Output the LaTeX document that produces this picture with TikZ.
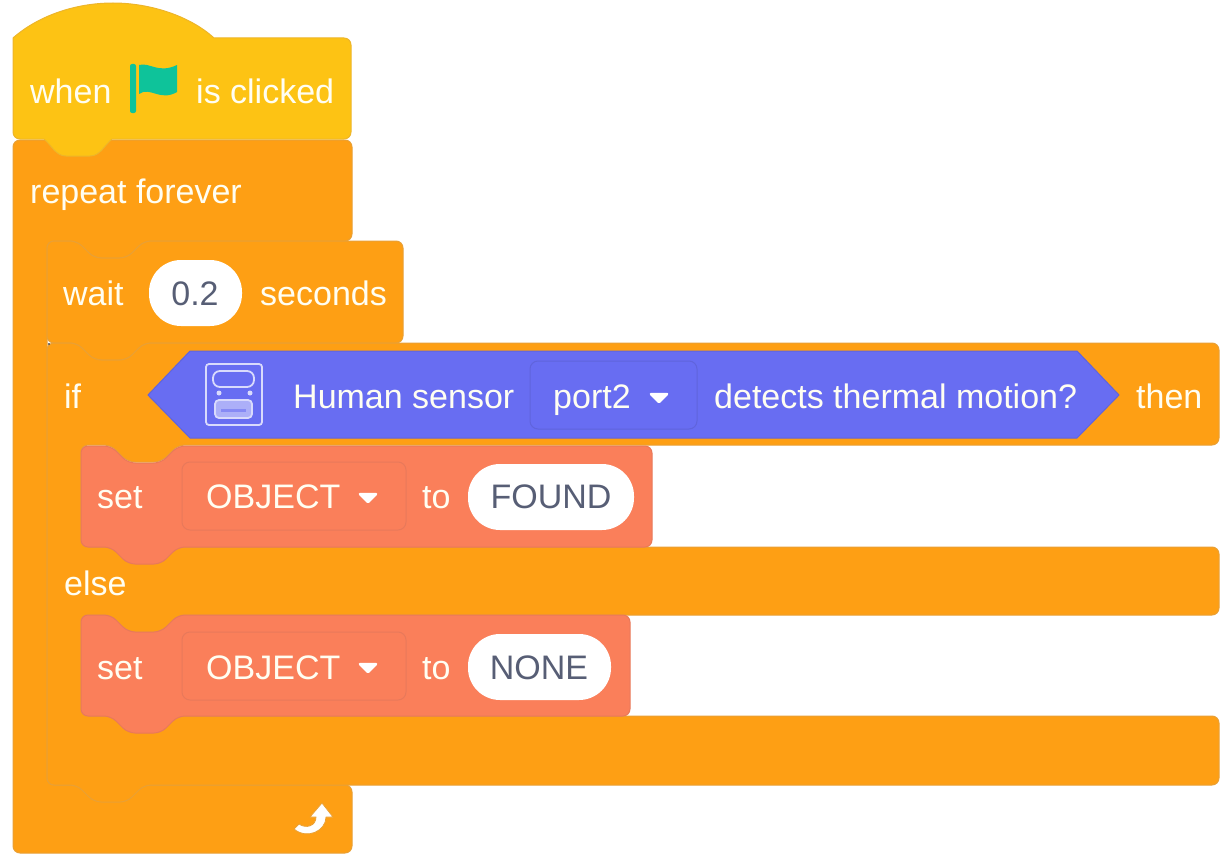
\documentclass[tikz,border=0pt]{standalone}
\usepackage{fontspec}
\setmainfont{Liberation Sans}
\definecolor{hatyellow}{HTML}{FDC314}
\definecolor{hatline}{HTML}{EDB52A}
\definecolor{ctrlorange}{HTML}{FE9F14}
\definecolor{ctrlline}{HTML}{E9A035}
\definecolor{sensorblue}{HTML}{686DF2}
\definecolor{sensorline}{HTML}{6064DC}
\definecolor{varcoral}{HTML}{FA7F5A}
\definecolor{varline}{HTML}{E8795A}
\definecolor{flaggreen}{HTML}{0EC39A}
\definecolor{inputgrey}{HTML}{575E75}

\tikzset{
    lbl/.style={font=\fontsize{34}{34}\selectfont, text=white!95!yellow, inner sep=0pt, anchor=base west},
    inputlbl/.style={font=\fontsize{34}{34}\selectfont, text=inputgrey, inner sep=0pt, anchor=base},
    pill/.style={fill=white, rounded corners=32pt},
    ctrlblock/.style={fill=ctrlorange, draw=ctrlline, line width=1pt, rounded corners=7pt},
    varblock/.style={fill=varcoral, draw=varline, line width=1pt, rounded corners=7pt},
    varmenu/.style={draw=varline, fill=varcoral, line width=1pt, rounded corners=8pt},
    menuarrow/.style={fill=white, draw=white, line width=2.5pt, line join=round},
    iconline/.style={draw=white!75!sensorblue, line width=1.8pt}
}

% style, left, top, right, bottom
\newcommand{\stackblock}[5]{
    \draw[#1] (#2,#3) -- (#2+30,#3) -- (#2+47,#3+17) -- (#2+80,#3+17) -- (#2+97,#3) -- (#4,#3)
        -- (#4,#5) -- (#2+97,#5) -- (#2+80,#5+17) -- (#2+47,#5+17) -- (#2+30,#5) -- (#2,#5) -- cycle;
}

\begin{document}
\begin{tikzpicture}[x=1pt, y=-1pt]
    \useasboundingbox (0,0) rectangle (1227,867);

    % repeat forever
    \draw[ctrlblock] (13,140) -- (352,140) -- (352,241) -- (144,241) -- (127,258) -- (94,258) -- (77,241)
        -- (47,241) -- (47,785) -- (352,785) -- (352,853) -- (13,853) -- cycle;

    % hat
    \draw[fill=hatyellow, draw=hatline, line width=1pt]
        (13,38) .. controls (38,16) and (75,3) .. (113,3) .. controls (150,3) and (190,16) .. (214,38)
        -- (344,38) .. controls (348,38) and (351,41) .. (351,45) -- (351,132)
        .. controls (351,136) and (348,139) .. (344,139) -- (112,139)
        .. controls (104,146) and (100,156) .. (90,156) -- (66,156)
        .. controls (56,156) and (52,146) .. (44,139)
        -- (20,139) .. controls (16,139) and (13,136) .. (13,132) -- cycle;
    \fill[flaggreen, rounded corners=2pt] (130,64) rectangle (136,113);
    \fill[flaggreen] (139,65) .. controls (150,62) and (158,74) .. (177,65) -- (177,92)
        .. controls (160,102) and (150,86) .. (139,94) -- cycle;
    \node[lbl] (when) at (30,103) {when};
    \node[lbl] (clicked) at (196,103) {is clicked};

    \node[lbl] (forever) at (30,203) {repeat forever};

    % wait
    \stackblock{ctrlblock}{47}{241}{403}{343}
    \node[lbl] (wait) at (63,305) {wait};
    \fill[pill] (149,260) rectangle (242,326);
    \node[inputlbl] (delay) at (195,305) {0.2};
    \node[lbl] (seconds) at (260,305) {seconds};

    % if else
    \draw[ctrlblock] (47,343) -- (77,343) -- (94,360) -- (127,360) -- (144,343) -- (1219,343) -- (1219,445)
        -- (178,445) -- (161,462) -- (128,462) -- (111,445) -- (81,445) -- (81,547) -- (1219,547)
        -- (1219,615) -- (178,615) -- (161,632) -- (128,632) -- (111,615) -- (81,615) -- (81,716) -- (1219,716)
        -- (1219,785) -- (144,785) -- (127,802) -- (94,802) -- (77,785) -- (47,785) -- cycle;
    \fill[black!70] (49,344) circle (1.2pt);
    \node[lbl] (if) at (64,408) {if};
    \node[lbl] (then) at (1136,408) {then};
    \node[lbl] (else) at (64,595) {else};

    % sensor
    \draw[fill=sensorblue, draw=sensorline, line width=1pt] (148,395) -- (190,351) -- (1077,351) -- (1119,395)
        -- (1077,438) -- (190,438) -- cycle;
    \draw[iconline, rounded corners=3pt] (206,364) rectangle (262,425);
    \draw[iconline, rounded corners=7pt] (213,371) rectangle (254,387);
    \fill[white!75!sensorblue] (219,393) circle (2.5pt) (250,393) circle (2.5pt);
    \draw[iconline, fill=white!45!sensorblue, rounded corners=4pt] (215,400) rectangle (252,418);
    \draw[sensorblue!80!white, line width=3pt] (221,410) -- (246,410);
    \node[lbl] (human) at (293,408) {Human sensor};
    \draw[draw=sensorline, line width=1pt, rounded corners=8pt] (530,361) rectangle (697,429);
    \node[lbl] (port) at (553,408) {port2};
    \draw[menuarrow] (651,394) -- (667,394) -- (659,402) -- cycle;
    \node[lbl] (detects) at (714,408) {detects thermal motion?};

    % set found
    \stackblock{varblock}{81}{446}{652}{547}
    \node[lbl] (setfound) at (97,508) {set};
    \draw[varmenu] (182,462) rectangle (406,530);
    \node[lbl] (objfound) at (206,508) {OBJECT};
    \draw[menuarrow] (360,494) -- (376,494) -- (368,502) -- cycle;
    \node[lbl] (tofound) at (422,508) {to};
    \fill[pill] (468,464) rectangle (634,530);
    \node[inputlbl] (found) at (551,508) {FOUND};

    % set none
    \stackblock{varblock}{81}{615}{630}{716}
    \node[lbl] (setnone) at (97,679) {set};
    \draw[varmenu] (182,632) rectangle (406,700);
    \node[lbl] (objnone) at (206,679) {OBJECT};
    \draw[menuarrow] (360,664) -- (376,664) -- (368,672) -- cycle;
    \node[lbl] (tonone) at (422,679) {to};
    \fill[pill] (468,634) rectangle (611,700);
    \node[inputlbl] (none) at (539,679) {NONE};

    % loop arrow
    \draw[fill=white, draw=ctrlline, line width=0.8pt, line join=round] (322,803) -- (333,817) -- (326,817)
        .. controls (326,831) and (307,840) .. (294,829) -- (299,824)
        .. controls (306,829) and (316,826) .. (316,817) -- (310,817) -- cycle;
\end{tikzpicture}
\end{document}
